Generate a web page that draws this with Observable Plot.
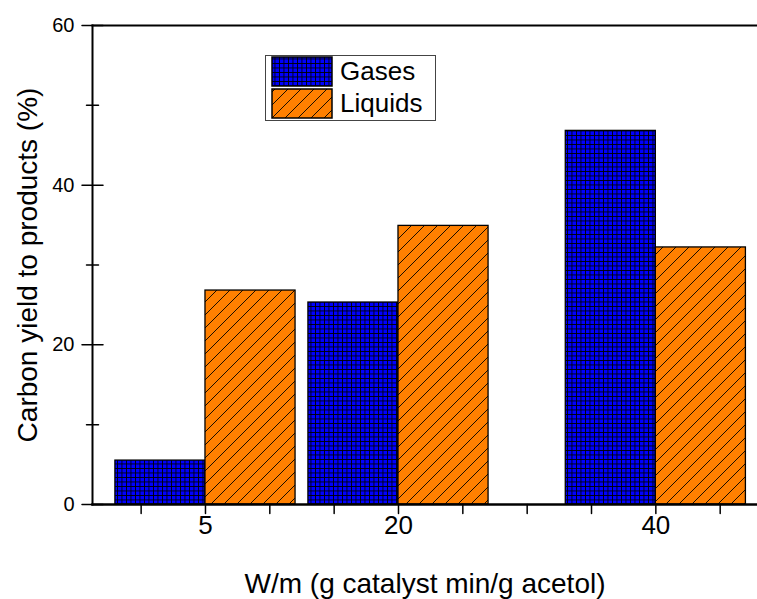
<!DOCTYPE html>
<html><head><meta charset="utf-8">
<script src="https://cdn.jsdelivr.net/npm/d3@7"></script>
<script src="https://cdn.jsdelivr.net/npm/@observablehq/plot@0.6"></script>
<style>html,body{margin:0;padding:0;background:#fff;} svg{display:block;}</style>
</head><body><div id="chart"></div>
<script>
// ---- data ----
const loads = [5, 20, 40];
const gases = [5.5, 25.3, 46.8];
const liquids = [26.8, 34.9, 32.2];
const seriesNames = ["Gases", "Liquids"];
const yMajorTicks = [0, 20, 40, 60];
const yMinorTicks = [10, 30, 50];
const xTicks = [0, 5, 10, 15, 20, 25, 30, 35, 40, 45];
const xTickLabels = [5, 20, 40];
const xLabel = "W/m (g catalyst min/g acetol)";
const yLabel = "Carbon yield to products (%)";

// ---- build table ----
const barWidth = 7; // in x units
const gasRows = loads.map((w, i) => ({w, value: gases[i], x1: w - barWidth, x2: w}));
const liqRows = loads.map((w, i) => ({w, value: liquids[i], x1: w, x2: w + barWidth}));

const FONT = "'Liberation Sans', Arial, Helvetica, sans-serif";
const line = {draw(ctx, l) { ctx.moveTo(0, 0); ctx.lineTo(0, -l); }};

const chart = Plot.plot({
  width: 757, height: 599,
  marginLeft: 92, marginRight: 0, marginTop: 25, marginBottom: 95,
  x: {domain: [-3.78, 47.9], axis: null},
  y: {domain: [0, 60], axis: null},
  style: {fontFamily: FONT, background: "#fff", color: "#000"},
  marks: [
    Plot.rectY(gasRows, {x1: "x1", x2: "x2", y1: 0, y2: "value", fill: "url(#gasGrid)", stroke: "#000", strokeWidth: 1.3}),
    Plot.rectY(liqRows, {x1: "x1", x2: "x2", y1: 0, y2: "value", fill: "url(#liqHatch)", stroke: "#000", strokeWidth: 1.3}),
    Plot.frame({anchor: "left", stroke: "#000", strokeWidth: 2}),
    Plot.frame({anchor: "top", stroke: "#000", strokeWidth: 2}),
    Plot.frame({anchor: "bottom", stroke: "#000", strokeWidth: 2.5}),
    // y ticks (crossing the axis)
    Plot.vector(yMajorTicks, {y: d => d, frameAnchor: "left", length: 21, rotate: 90, anchor: "middle", shape: line, stroke: "#000", strokeWidth: 1.5}),
    Plot.vector(yMinorTicks, {y: d => d, frameAnchor: "left", length: 12, rotate: 90, anchor: "middle", shape: line, stroke: "#000", strokeWidth: 1.5}),
    // x ticks (downward)
    Plot.vector(xTicks, {x: d => d, frameAnchor: "bottom", length: 9, rotate: 180, anchor: "start", shape: line, stroke: "#000", strokeWidth: 1.5}),
    // tick labels
    Plot.text(yMajorTicks, {y: d => d, text: d => String(d), frameAnchor: "left", textAnchor: "end", dx: -18, fontSize: 20, fill: "#000"}),
    Plot.text(xTickLabels, {x: d => d, text: d => String(d), frameAnchor: "bottom", lineAnchor: "top", dy: 11, fontSize: 26, fill: "#000"}),
    // axis labels
    Plot.text([yLabel], {text: d => d, frameAnchor: "left", textAnchor: "middle", rotate: -90, dx: -64, fontSize: 28, fill: "#000"}),
    Plot.text([xLabel], {text: d => d, frameAnchor: "bottom", textAnchor: "middle", lineAnchor: "bottom", dy: 88, fontSize: 28, fill: "#000"})
  ]
});

// ---- patterns & legend ----
const ns = "http://www.w3.org/2000/svg";
function el(tag, attrs, parent) {
  const e = document.createElementNS(ns, tag);
  for (const k in attrs) e.setAttribute(k, attrs[k]);
  if (parent) parent.appendChild(e);
  return e;
}
const defs = el("defs", {});
chart.insertBefore(defs, chart.firstChild);
const pg = el("pattern", {id: "gasGrid", patternUnits: "userSpaceOnUse", width: 4.5, height: 4.5}, defs);
el("rect", {width: 4.5, height: 4.5, fill: "#0000ff"}, pg);
el("path", {d: "M0,0.4H4.5M0.4,0V4.5", stroke: "#000", "stroke-width": 0.9, fill: "none"}, pg);
const pl = el("pattern", {id: "liqHatch", patternUnits: "userSpaceOnUse", width: 13, height: 13}, defs);
el("rect", {width: 13, height: 13, fill: "#ff8000"}, pl);
el("path", {d: "M0,13L13,0M-3,3L3,-3M10,16L16,10", stroke: "#000", "stroke-width": 0.9, fill: "none"}, pl);

const lg = el("g", {"font-family": FONT, "font-size": 26, "text-anchor": "start"}, chart);
el("rect", {x: 265.5, y: 55.5, width: 170, height: 65, fill: "#fff", stroke: "#444", "stroke-width": 1}, lg);
const fills = ["url(#gasGrid)", "url(#liqHatch)"];
seriesNames.forEach((name, i) => {
  el("rect", {x: 272, y: 57 + i * 32, width: 60, height: 29, fill: fills[i], stroke: "#000", "stroke-width": 1.5}, lg);
  const t = el("text", {x: 340, y: 80 + i * 32, fill: "#000", "text-anchor": "start"}, lg);
  t.textContent = name;
});

document.getElementById("chart").appendChild(chart);
</script>
</body></html>
